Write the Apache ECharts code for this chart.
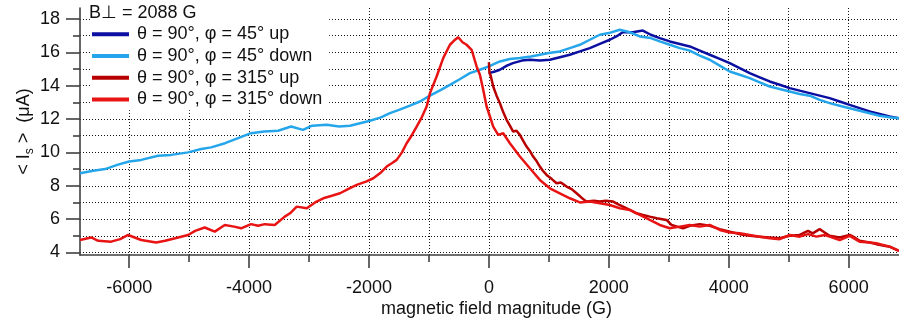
<!DOCTYPE html>
<html>
<head>
<meta charset="utf-8">
<script src="https://cdn.jsdelivr.net/npm/echarts@6/dist/echarts.min.js"></script>
<style>
html,body{margin:0;padding:0;background:#fff;}
#chart{width:899px;height:326px;}
</style>
</head>
<body>
<div id="chart"></div>
<script>
// ---------- data ----------
const seriesNames = ['θ = 90°, φ = 45° up', 'θ = 90°, φ = 45° down', 'θ = 90°, φ = 315° up', 'θ = 90°, φ = 315° down'];
const headerText = 'B⊥ = 2088 G';
const xTitle = 'magnetic field magnitude (G)';

const fieldUp45 = [0,100,183,300,400,550,683,850,1017,1183,1350,1517,1683,1850,2017,2150,2233,2400,2567,2700,2850,3017,3183,3350,3517,3683,3850,4017,4183,4350,4517,4683,4850,5017,5183,5350,5517,5683,5850,6017,6183,6350,6517,6683,6840];
const currentUp45 = [14.75,14.85,14.95,15.2,15.35,15.5,15.55,15.5,15.55,15.7,15.85,16.05,16.25,16.5,16.75,17.0,17.2,17.2,17.3,17.05,16.85,16.65,16.5,16.35,16.1,15.85,15.6,15.35,15.05,14.75,14.5,14.25,14.05,13.85,13.7,13.55,13.4,13.25,13.05,12.85,12.65,12.45,12.3,12.15,12.05];

const fieldDown45 = [-6820,-6600,-6400,-6200,-6000,-5800,-5517,-5300,-5017,-4800,-4633,-4400,-4183,-3967,-3750,-3517,-3300,-3100,-2950,-2705,-2500,-2317,-2150,-1983,-1800,-1650,-1500,-1317,-1150,-983,-800,-650,-480,-317,-150,0,183,350,517,700,850,1000,1183,1350,1517,1683,1850,2000,2183,2350,2517,2700,2850,3017,3183,3350,3517,3683,3850,4017,4183,4350,4517,4683,4850,5017,5183,5350,5517,5683,5850,6017,6183,6350,6517,6683,6840];
const currentDown45 = [8.75,8.9,9.0,9.25,9.45,9.55,9.8,9.85,10.0,10.2,10.3,10.55,10.85,11.15,11.25,11.3,11.55,11.35,11.6,11.65,11.55,11.6,11.75,11.9,12.1,12.35,12.55,12.8,13.05,13.4,13.75,14.05,14.4,14.75,14.95,15.15,15.45,15.6,15.65,15.75,15.85,15.95,16.05,16.25,16.45,16.75,17.05,17.15,17.35,17.2,16.95,16.85,16.65,16.45,16.25,16.1,15.8,15.55,15.2,14.85,14.65,14.45,14.2,13.95,13.8,13.65,13.5,13.4,13.15,12.95,12.8,12.65,12.5,12.35,12.2,12.1,12.05];

const fieldUp315 = [0,10,30,72,128,183,240,295,350,405,460,517,570,628,680,738,800,850,900,962,1050,1128,1200,1295,1380,1462,1540,1628,1750,1850,1950,2072,2150,2238,2350,2462,2570,2683,2800,2962,3045,3140,3238,3350,3517,3683,3850,4017,4183,4350,4517,4683,4850,5017,5183,5322,5400,5517,5600,5683,5850,6017,6100,6183,6350,6462,6683,6840];
const currentUp315 = [15.4,14.75,14.6,13.95,13.4,12.95,12.4,11.95,11.6,11.25,11.3,11.05,10.7,10.35,10.1,9.75,9.45,9.15,8.9,8.65,8.4,8.15,8.2,7.95,7.8,7.55,7.3,7.05,7.1,7.05,7.1,7.05,6.9,6.75,6.55,6.35,6.25,6.15,6.05,5.95,5.65,5.55,5.45,5.6,5.7,5.6,5.4,5.25,5.1,5.0,4.95,4.9,4.85,5.0,5.05,5.3,5.15,5.4,5.2,5.0,4.9,5.05,4.9,4.7,4.6,4.5,4.35,4.1];

const fieldDown315 = [-6820,-6633,-6517,-6300,-6150,-6017,-5800,-5550,-5400,-5233,-5017,-4900,-4740,-4572,-4405,-4250,-4133,-3967,-3850,-3738,-3572,-3405,-3317,-3205,-3038,-2900,-2762,-2620,-2483,-2350,-2205,-2050,-1928,-1800,-1705,-1620,-1538,-1450,-1372,-1290,-1205,-1120,-1038,-983,-872,-762,-650,-580,-512,-440,-372,-288,-205,-150,-95,-38,17,72,155,238,350,517,683,850,1017,1183,1350,1517,1683,1850,2017,2183,2350,2517,2683,2850,3017,3183,3350,3517,3683,3850,4017,4183,4350,4517,4683,4850,5017,5183,5322,5462,5600,5683,5850,6017,6183,6350,6462,6683,6840];
const currentDown315 = [4.75,4.9,4.7,4.65,4.8,5.05,4.75,4.6,4.7,4.85,5.05,5.3,5.5,5.25,5.65,5.55,5.45,5.7,5.6,5.7,5.65,6.15,6.35,6.75,6.65,7.0,7.25,7.4,7.55,7.8,8.05,8.25,8.45,8.8,9.15,9.35,9.55,10.0,10.55,11.0,11.55,12.1,12.75,13.55,14.55,15.65,16.45,16.7,16.9,16.6,16.45,16.15,15.15,14.65,13.75,12.75,12.15,11.55,11.05,11.15,10.55,9.75,9.05,8.35,7.85,7.55,7.25,7.0,7.05,6.95,6.85,6.65,6.55,6.25,5.95,5.65,5.45,5.55,5.65,5.55,5.65,5.35,5.2,5.15,5.05,4.95,4.85,4.8,5.05,4.95,5.1,4.95,5.05,4.95,4.75,5.0,4.65,4.6,4.55,4.35,4.1];

const xTicksMin = -6000, xTicksMax = 6000, xMajor = 2000;
const yTicksMin = 4, yTicksMax = 18, yMajor = 2;

// ---------- layout ----------
const W = 899, H = 326;
const plotLeft = 80, plotRight = 899, plotTop = 8, plotBottom = 255;
const xMin = -6820, xMax = 6840;
const yPerUnit = 16.686;
const yGrid4 = 252.5;
const yMin = 4 - (plotBottom - yGrid4) / yPerUnit;
const yMax = yMin + (plotBottom - plotTop) / yPerUnit;
const xScale = (plotRight - plotLeft) / (xMax - xMin);
const px = v => plotLeft + (v - xMin) * xScale;
const py = v => plotBottom - (v - yMin) * yPerUnit;

const colors = ['#0c10a0', '#25a6ea', '#b80000', '#e81414'];
const font = 'Liberation Sans, Arial, sans-serif';
const axisColor = '#404040';
const dotted = { color: '#111', width: 1, type: [1, 2] };

function zip(a, b) { return a.map((v, i) => [v, b[i]]); }

const chart = echarts.init(document.getElementById('chart'), null, { renderer: 'canvas' });
chart.setOption({
  animation: false,
  backgroundColor: '#fff',
  textStyle: { fontFamily: font },
  title: {
    text: headerText,
    left: 89, top: 3, padding: 0, z: 10,
    textStyle: { fontSize: 18, fontWeight: 'normal', color: '#111', fontFamily: font, lineHeight: 20 }
  },
  legend: {
    orient: 'vertical',
    left: 90, top: 0, padding: [23.5, 7, 0, 2],
    backgroundColor: '#fff',
    itemGap: 0,
    icon: 'rect',
    itemWidth: 37, itemHeight: 4,
    data: seriesNames,
    textStyle: { fontSize: 18, color: '#111', fontFamily: font, lineHeight: 21.7, padding: [0, 0, 0, 3] }
  },
  grid: [
    { left: plotLeft, right: W - plotRight, top: plotTop, bottom: H - plotBottom },
    { left: px(xTicksMin), right: W - px(xTicksMax), top: plotTop, bottom: H - plotBottom },
    { left: plotLeft, right: W - plotRight, top: py(yTicksMax), bottom: H - py(yTicksMin) }
  ],
  xAxis: [
    { gridIndex: 0, type: 'value', min: xMin, max: xMax,
      axisLine: { show: true, onZero: false, lineStyle: { color: axisColor, width: 1.6 } },
      axisTick: { show: false }, axisLabel: { show: false }, splitLine: { show: false },
      name: xTitle, nameLocation: 'middle', nameGap: 45,
      nameTextStyle: { fontSize: 18, color: '#111', fontFamily: font, padding: [0, 0, 0, 14] } },
    { gridIndex: 1, type: 'value', min: xTicksMin, max: xTicksMax, interval: xMajor,
      axisLine: { show: false },
      axisTick: { show: true, length: 13, lineStyle: { color: axisColor, width: 1.6 } },
      minorTick: { show: true, splitNumber: 2, length: 7, lineStyle: { color: axisColor, width: 1.6 } },
      splitLine: { show: true, lineStyle: dotted },
      minorSplitLine: { show: true, lineStyle: dotted },
      axisLabel: { show: true, margin: 24, fontSize: 18, color: '#111', fontFamily: font, formatter: v => String(v) } },
    { gridIndex: 2, type: 'value', show: false, min: 0, max: 1 }
  ],
  yAxis: [
    { gridIndex: 0, type: 'value', min: yMin, max: yMax,
      axisLine: { show: true, onZero: false, lineStyle: { color: axisColor, width: 1.6 } },
      axisTick: { show: false }, axisLabel: { show: false }, splitLine: { show: false },
      name: '< I{s|s} >  (μA)', nameLocation: 'middle', nameGap: 44, nameRotate: 90,
      nameTextStyle: { fontSize: 18, color: '#111', fontFamily: font,
        rich: { s: { fontSize: 12, color: '#111', fontFamily: font, padding: [12, 0, 0, 0] } } } },
    { gridIndex: 1, type: 'value', show: false, min: 0, max: 1 },
    { gridIndex: 2, type: 'value', min: yTicksMin, max: yTicksMax, interval: yMajor,
      axisLine: { show: false },
      axisTick: { show: true, length: 14, lineStyle: { color: axisColor, width: 1.6 } },
      minorTick: { show: true, splitNumber: 2, length: 7, lineStyle: { color: axisColor, width: 1.6 } },
      splitLine: { show: true, lineStyle: dotted },
      minorSplitLine: { show: true, lineStyle: dotted },
      axisLabel: { show: true, margin: 20, fontSize: 18, color: '#111', fontFamily: font } }
  ],
  series: [
    { name: seriesNames[0], data: zip(fieldUp45, currentUp45), color: colors[0] },
    { name: seriesNames[1], data: zip(fieldDown45, currentDown45), color: colors[1] },
    { name: seriesNames[2], data: zip(fieldUp315, currentUp315), color: colors[2] },
    { name: seriesNames[3], data: zip(fieldDown315, currentDown315), color: colors[3] }
  ].map(s => Object.assign({
    type: 'line', xAxisIndex: 0, yAxisIndex: 0, showSymbol: false, symbol: 'none',
    lineStyle: { width: 2.5 }, z: 3
  }, s))
});
</script>
</body>
</html>
